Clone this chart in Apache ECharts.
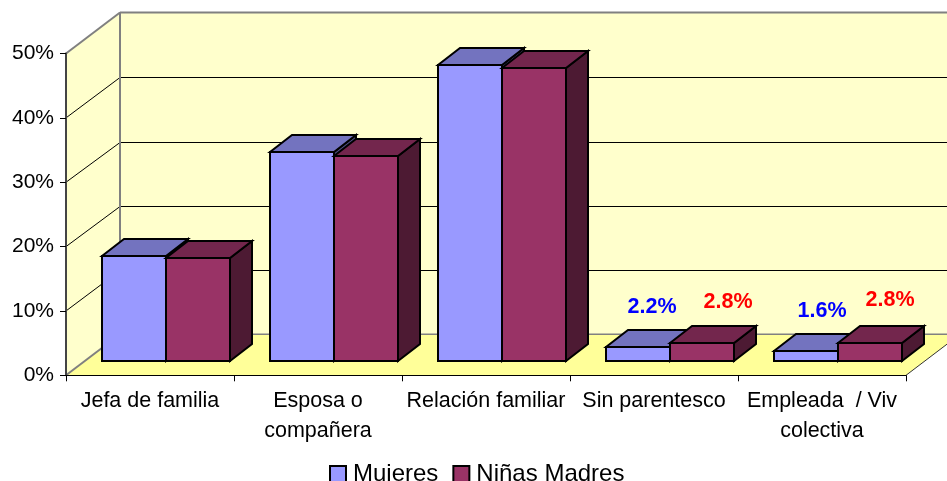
<!DOCTYPE html>
<html>
<head>
<meta charset="utf-8">
<style>html,body{margin:0;padding:0;background:#fff}#c{width:947px;height:481px}</style>
<script src="https://cdn.jsdelivr.net/npm/echarts@6/dist/echarts.min.js"></script>
</head>
<body>
<div id="c"></div>
<script>
const categories = ['Jefa de familia', 'Esposa o\ncompañera', 'Relación familiar', 'Sin parentesco', 'Empleada  / Viv\ncolectiva'];
const mujeres = [16.4, 32.5, 46.1, 2.2, 1.6];
const ninas = [16.0, 31.9, 45.5, 2.8, 2.8];
const yTicks = [0, 10, 20, 30, 40, 50];
const labelled = [3, 4];

// drawing style (3D projection of the plot box and the bars)
const WALL = { dx: 54, dy: -41, lineDy: -40 };
const BAR = { w: 64, shift: 16, lift: 14, dx: 22, dy: -17 };
const labelNudge = { Mujeres: { 3: [14, -40], 4: [16, -40] }, 'Niñas Madres': { 3: [26, -41], 4: [20, -43] } };
const FONT = '"Liberation Sans", Arial, sans-serif';
const COL = {
  wall: '#ffffcc', floor: '#ffff99', edge: '#808080',
  m: { front: '#9999ff', top: '#7373bf', side: '#4d4d80' },
  n: { front: '#993366', top: '#73264d', side: '#4d1a33' }
};

function poly(points, fill) {
  return { type: 'polygon', shape: { points }, style: { fill, stroke: '#000', lineWidth: 2, lineJoin: 'miter' } };
}
function ln(x1, y1, x2, y2, stroke, lineWidth) {
  return { type: 'line', shape: { x1, y1, x2, y2 }, style: { stroke, lineWidth } };
}

function renderWalls(params, api) {
  const cs = params.coordSys;
  const L = cs.x, R = cs.x + cs.width;
  const Y = v => api.coord([0, v])[1];
  const y0 = Y(yTicks[0]), yT = Y(yTicks[yTicks.length - 1]);
  const dx = WALL.dx, dy = WALL.dy;
  const kids = [
    { type: 'polygon', shape: { points: [[L, y0], [L + dx, y0 + dy], [L + dx, yT + dy], [L, yT]] }, style: { fill: COL.wall } },
    { type: 'polygon', shape: { points: [[L + dx, y0 + dy], [R + dx, y0 + dy], [R + dx, yT + dy], [L + dx, yT + dy]] }, style: { fill: COL.wall } },
    { type: 'polygon', shape: { points: [[L, y0], [R, y0], [R + dx, y0 + dy], [L + dx, y0 + dy]] }, style: { fill: COL.floor } }
  ];
  yTicks.forEach(v => {
    if (v === yTicks[0] || v === yTicks[yTicks.length - 1]) return;
    const y = Y(v);
    const yb = Math.floor(y + WALL.lineDy) + 0.5;
    kids.push(ln(L, y, L + dx, yb, '#000', 1));
    kids.push(ln(L + dx, yb, R + dx, yb, '#000', 1));
  });
  kids.push(ln(L + dx, y0 + dy, R + dx, y0 + dy, COL.edge, 1.5));
  kids.push(ln(L, y0, L + dx, y0 + dy, COL.edge, 2));
  kids.push(ln(R, y0, R + dx, y0 + dy, '#333', 1));
  kids.push(ln(L, yT, L + dx, yT + dy, COL.edge, 2));
  kids.push(ln(L + dx, yT + dy, R + dx, yT + dy, COL.edge, 2));
  kids.push(ln(L + dx, yT + dy, L + dx, y0 + dy, COL.edge, 2));
  return { type: 'group', children: kids };
}

function barRenderer(side, col, name) {
  return function (params, api) {
    const cat = api.value(0), val = api.value(1);
    const c = Math.round(api.coord([cat, 0])[0] + BAR.shift);
    const x0 = side < 0 ? c - BAR.w : c, x1 = x0 + BAR.w;
    const yb = Math.round(api.coord([cat, 0])[1] - BAR.lift);
    const yt = Math.round(api.coord([cat, val])[1] - BAR.lift);
    const dx = BAR.dx, dy = BAR.dy;
    const kids = [
      poly([[x1, yt], [x1 + dx, yt + dy], [x1 + dx, yb + dy], [x1, yb]], col.side),
      poly([[x0, yt], [x0 + dx, yt + dy], [x1 + dx, yt + dy], [x1, yt]], col.top),
      poly([[x0, yt], [x1, yt], [x1, yb], [x0, yb]], col.front)
    ];
    if (labelled.includes(cat)) {
      const n = labelNudge[name][cat];
      kids.push({
        type: 'text', z2: 10,
        style: {
          x: (x0 + x1) / 2 + n[0], y: yt + n[1], text: val.toFixed(1) + '%',
          fill: name === 'Mujeres' ? '#0000ff' : '#ff0000',
          font: 'bold 21.5px ' + FONT, align: 'center', verticalAlign: 'middle'
        }
      });
    }
    return { type: 'group', children: kids };
  };
}

const chart = echarts.init(document.getElementById('c'), null, { renderer: 'canvas' });
chart.setOption({
  animation: false,
  backgroundColor: '#fff',
  grid: { left: 66, right: 41, top: 53.5, bottom: 105.7, containLabel: false },
  xAxis: {
    type: 'category', data: categories, z: 5,
    axisLine: { show: true, lineStyle: { color: '#000', width: 1 } },
    axisTick: { show: true, length: 6, alignWithLabel: false, lineStyle: { color: '#000', width: 1 } },
    axisLabel: { interval: 0, margin: 11, fontFamily: FONT, fontSize: 21.5, lineHeight: 30, color: '#000' }
  },
  yAxis: {
    type: 'value', min: 0, max: 50, interval: 10, z: 5,
    axisLine: { show: true, lineStyle: { color: '#444', width: 2 } },
    axisTick: { show: true, length: 6, lineStyle: { color: '#000', width: 1 } },
    splitLine: { show: false },
    axisLabel: { formatter: '{value}%', margin: 12, fontFamily: FONT, fontSize: 21, color: '#000' }
  },
  legend: {
    data: ['Mujeres', 'Niñas Madres'], left: 324, top: 457, icon: 'rect',
    itemWidth: 16, itemHeight: 16, itemGap: 14,
    textStyle: { fontFamily: FONT, fontSize: 24, color: '#000', padding: [0, 0, 0, 2] }
  },
  series: [
    { type: 'custom', silent: true, z: 1, data: [[0, 0]], renderItem: renderWalls, clip: false },
    { type: 'custom', name: 'Mujeres', z: 2, encode: { x: 0, y: 1 }, data: mujeres.map((v, i) => [i, v]),
      renderItem: barRenderer(-1, COL.m, 'Mujeres'), itemStyle: { color: COL.m.front, borderColor: '#000', borderWidth: 1.5 } },
    { type: 'custom', name: 'Niñas Madres', z: 3, encode: { x: 0, y: 1 }, data: ninas.map((v, i) => [i, v]),
      renderItem: barRenderer(1, COL.n, 'Niñas Madres'), itemStyle: { color: COL.n.front, borderColor: '#000', borderWidth: 1.5 } }
  ]
});
</script>
</body>
</html>
